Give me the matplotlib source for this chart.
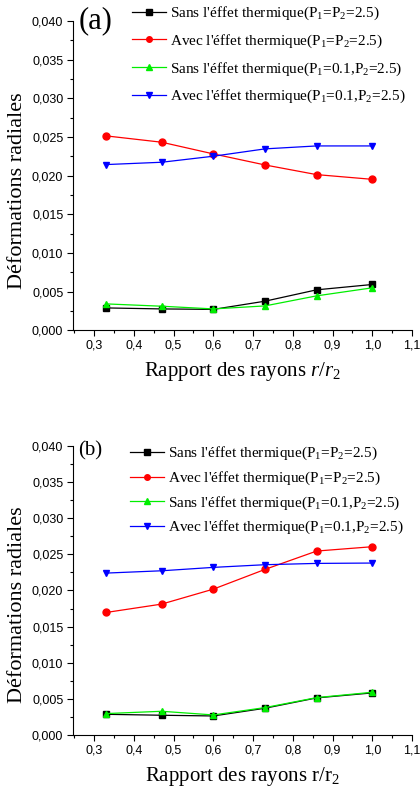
import numpy as np
import matplotlib
matplotlib.use('Agg')
import matplotlib.pyplot as plt
from matplotlib.ticker import MultipleLocator, FuncFormatter

plt.rcParams['font.family'] = 'Liberation Serif'
plt.rcParams['mathtext.fontset'] = 'custom'
plt.rcParams['mathtext.rm'] = 'Liberation Serif'
plt.rcParams['mathtext.it'] = 'Liberation Serif:italic'

# rapport des rayons r/r2
x = [0.33, 0.47, 0.60, 0.73, 0.86, 1.00]

# (a)
a_sans_p25 = [0.00289, 0.00276, 0.00270, 0.00376, 0.00523, 0.00592]
a_avec_p25 = [0.02514, 0.02432, 0.02281, 0.02138, 0.02013, 0.01952]
a_sans_p01 = [0.00341, 0.00311, 0.00276, 0.00315, 0.00445, 0.00549]
a_avec_p01 = [0.02143, 0.02173, 0.02251, 0.02346, 0.02384, 0.02384]

# (b)
b_sans_p25 = [0.00286, 0.00273, 0.00263, 0.00370, 0.00513, 0.00582]
b_avec_p25 = [0.01695, 0.01811, 0.02018, 0.02291, 0.02545, 0.02605]
b_sans_p01 = [0.00296, 0.00328, 0.00277, 0.00379, 0.00517, 0.00591]
b_avec_p01 = [0.02240, 0.02272, 0.02319, 0.02356, 0.02374, 0.02379]

labels = [r"Sans l'éffet thermique(P$_1$=P$_2$=2.5)",
          r"Avec l'éffet thermique(P$_1$=P$_2$=2.5)",
          r"Sans l'éffet thermique(P$_1$=0.1,P$_2$=2.5)",
          r"Avec l'éffet thermique(P$_1$=0.1,P$_2$=2.5)"]
colors = ['black', 'red', '#00ee00', 'blue']
markers = ['s', 'o', '^', 'v']

fig = plt.figure(figsize=(4.2, 7.92), dpi=100)

def comma(v, nd):
    return (('%.' + str(nd) + 'f') % v).replace('.', ',')

def panel(rect, series, tag, tagsize, tagpos, xlab, leg_anchor, leg_space):
    ax = fig.add_axes(rect)
    for i in range(4):
        ax.plot(x, series[i], color=colors[i], marker=markers[i], ms=5,
                lw=0.9, label=labels[i])
    ax.set_xlim(0.247, 1.1)
    ax.set_ylim(0, 0.040)
    ax.spines['top'].set_visible(False)
    ax.spines['right'].set_visible(False)
    ax.xaxis.set_major_locator(MultipleLocator(0.1))
    ax.xaxis.set_minor_locator(MultipleLocator(0.05))
    ax.yaxis.set_major_locator(MultipleLocator(0.005))
    ax.yaxis.set_minor_locator(MultipleLocator(0.0025))
    ax.xaxis.set_major_formatter(FuncFormatter(lambda v, p: comma(v, 1)))
    ax.yaxis.set_major_formatter(FuncFormatter(lambda v, p: comma(v, 3)))
    ax.tick_params(which='major', length=4, width=0.8, direction='out', pad=3)
    ax.tick_params(which='minor', length=2.5, width=0.8, direction='out')
    for t in ax.get_xticklabels() + ax.get_yticklabels():
        t.set_family('Liberation Sans')
        t.set_fontsize(9)
    ax.set_ylabel('Déformations radiales', fontsize=16)
    ax.yaxis.set_label_coords(-0.135, 0.45)
    ax.set_xlabel(xlab, fontsize=15, labelpad=6)
    fig.text(tagpos[0], tagpos[1], tag, fontsize=tagsize, ha='left', va='top')
    ax.legend(loc='upper left', bbox_to_anchor=leg_anchor,
              bbox_transform=fig.transFigure, frameon=False, fontsize=11,
              handlelength=2.2, handletextpad=0.3, labelspacing=leg_space,
              borderaxespad=0, borderpad=0, markerscale=0.8)
    return ax

ax1 = panel([0.174, 0.583, 0.807, 0.3905],
            [a_sans_p25, a_avec_p25, a_sans_p01, a_avec_p01],
            '(a)', 22, (0.188, 0.992), r'Rapport des rayons $r$/$r_2$',
            (0.315, 0.994), 0.68)
ax2 = panel([0.174, 0.072, 0.807, 0.365],
            [b_sans_p25, b_avec_p25, b_sans_p01, b_avec_p01],
            '(b)', 15, (0.186, 0.443), r'Rapport des rayons r/r$_2$',
            (0.31, 0.438), 0.48)

fig.savefig('out.png', dpi=100)
